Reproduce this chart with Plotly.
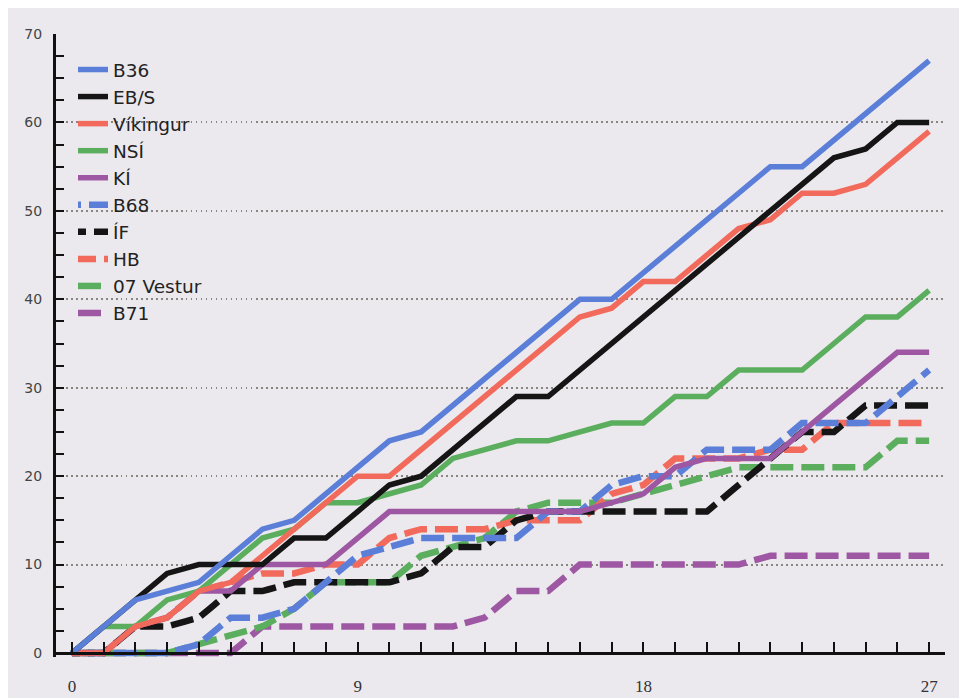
import plotly.graph_objects as go

rounds = list(range(28))

B36 = [0,3,6,7,8,11,14,15,18,21,24,25,28,31,34,37,40,40,43,46,49,52,55,55,58,61,64,67]
EBS = [0,3,6,9,10,10,10,13,13,16,19,20,23,26,29,29,32,35,38,41,44,47,50,53,56,57,60,60]
VIK = [0,0,3,4,7,8,11,14,17,20,20,23,26,29,32,35,38,39,42,42,45,48,49,52,52,53,56,59]
NSI = [0,3,3,6,7,10,13,14,17,17,18,19,22,23,24,24,25,26,26,29,29,32,32,32,35,38,38,41]
KI  = [0,0,3,4,7,7,10,10,10,13,16,16,16,16,16,16,16,17,18,21,22,22,22,25,28,31,34,34]
B68 = [0,0,0,0,1,4,4,5,8,11,12,13,13,13,13,16,16,19,20,20,23,23,23,26,26,26,29,32]
IF  = [0,0,3,3,4,7,7,8,8,8,8,9,12,12,15,16,16,16,16,16,16,19,22,25,25,28,28,28]
HB  = [0,0,3,4,7,8,9,9,10,10,13,14,14,14,15,15,15,18,19,22,22,22,23,23,26,26,26,26]
V07 = [0,0,0,0,1,2,3,5,8,8,8,11,12,13,16,17,17,17,18,19,20,21,21,21,21,21,24,24]
B71 = [0,0,0,0,0,0,3,3,3,3,3,3,3,4,7,7,10,10,10,10,10,10,11,11,11,11,11,11]

x_tick_labels = ["0", "9", "18", "27"]
x_tick_vals = [0, 9, 18, 27]

BLUE = "#5b7fd8"
BLACK = "#151515"
RED = "#f26a5b"
GREEN = "#5cae5f"
PURPLE = "#9e58a3"
BG = "#ebe9ed"

# (name, values, color, dash, legend rank)
series = [
    ("B71", B71, PURPLE, "23px,8px", 10),
    ("07 Vestur", V07, GREEN, "23px,8px", 9),
    ("HB", HB, RED, "18px,8px,5px,0px", 8),
    ("ÍF", IF, BLACK, "8px,8px,15px,0px", 7),
    ("B68", B68, BLUE, "3px,8px,20px,0px", 6),
    ("KÍ", KI, PURPLE, "solid", 5),
    ("NSÍ", NSI, GREEN, "solid", 4),
    ("Víkingur", VIK, RED, "solid", 3),
    ("EB/S", EBS, BLACK, "solid", 2),
    ("B36", B36, BLUE, "solid", 1),
]

fig = go.Figure()
for name, vals, col, dash, rank in series:
    fig.add_trace(go.Scatter(
        x=rounds, y=vals, mode="lines", name=name,
        line=dict(color=col, width=5.5 if dash == "solid" else 6.5, dash=dash),
        legendrank=rank, hoverinfo="skip",
    ))

# page body adds an 8px offset; the figure fills the rest of the window
W, H = 959, 690
ml, mr, mt, mb = 48, 22, 26, 41
pw, ph = W - ml - mr, H - mt - mb

fig.update_layout(
    width=W, height=H,
    margin=dict(l=ml, r=mr, t=mt, b=mb, pad=0, autoexpand=False),
    paper_bgcolor=BG,
    plot_bgcolor=BG,
    showlegend=True,
    legend=dict(
        x=(65 - ml) / pw, y=(649 - 43) / ph, xanchor="left", yanchor="top",
        bgcolor="rgba(0,0,0,0)", borderwidth=0,
        font=dict(family="DejaVu Sans", size=18.5, color="#222"),
        itemwidth=30,
    ),
)

fig.update_xaxes(
    range=[-0.5, 27.5], automargin=False,
    anchor="free", position=0.45 / 70.45,
    showline=True, linecolor="#111", linewidth=3,
    showgrid=False, zeroline=False,
    tickmode="array", tickvals=x_tick_vals, ticktext=x_tick_labels,
    ticks="inside", ticklen=10, tickwidth=2, tickcolor="#111",
    minor=dict(dtick=1, tick0=0, ticks="inside", ticklen=10, tickwidth=2, tickcolor="#111", showgrid=False),
    tickfont=dict(family="Liberation Serif", size=17, color="#333"),
    ticklabelstandoff=17,
)
fig.update_yaxes(
    range=[-0.45, 70], automargin=False,
    showline=True, linecolor="#111", linewidth=3,
    zeroline=False,
    dtick=10, tick0=0,
    ticks="inside", ticklen=8, tickwidth=2, tickcolor="#111",
    minor=dict(dtick=2.5, tick0=0, ticks="inside", ticklen=8, tickwidth=2, tickcolor="#111", showgrid=False),
    showgrid=True, gridcolor="#8a8580", gridwidth=1.5, griddash="1.5px,3.5px",
    tickfont=dict(family="DejaVu Sans", size=14, color="#444"),
    ticklabelstandoff=8,
)

fig.write_html("out.html")
